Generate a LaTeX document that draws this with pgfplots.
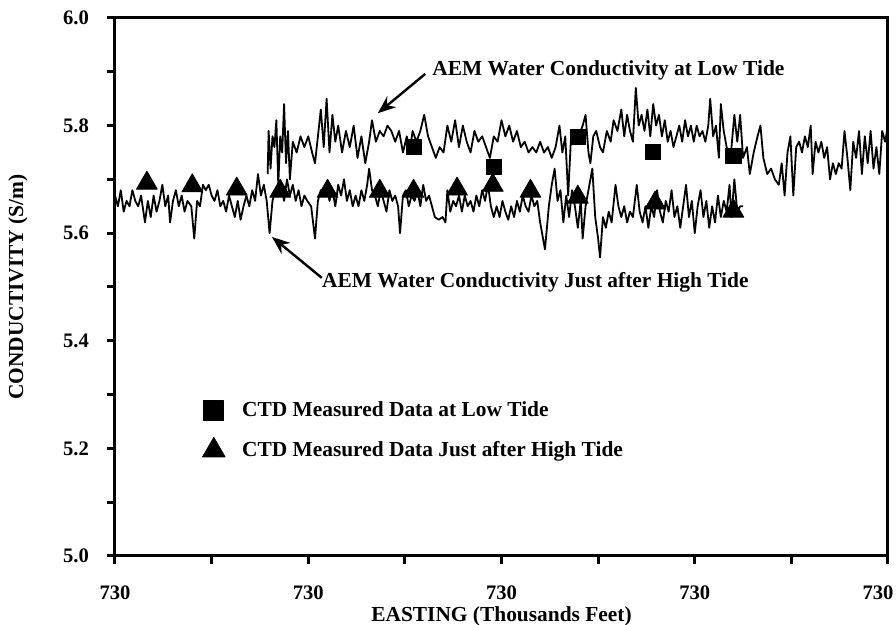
\documentclass[border=0pt]{standalone}
\usepackage{fontspec}
\setmainfont{Liberation Serif}
\usepackage{pgfplots}
\pgfplotsset{compat=1.18}
\usetikzlibrary{arrows.meta}
\newcommand{\lblfont}{\fontsize{10.7}{13}\selectfont\bfseries}

\begin{document}
\begin{tikzpicture}
\begin{axis}[
  name=ax,
  scale only axis, width=386.5pt, height=269pt,
  xmin=0, xmax=8, ymin=5.0, ymax=6.0,
  xtick={0,2,4,6,8}, minor xtick={1,3,5,7},
  xticklabels={730,730,730,730,\hbox{\kern-10pt 730}},
  ytick={5.0,5.2,5.4,5.6,5.8,6.0}, minor ytick={5.1,5.3,5.5,5.7,5.9},
  yticklabel style={/pgf/number format/fixed, /pgf/number format/fixed zerofill,
    /pgf/number format/precision=1, /pgf/number format/assume math mode=true,
    font=\fontsize{10.3}{12}\selectfont\bfseries, xshift=-5.5pt},
  xticklabel style={font=\fontsize{10.3}{12}\selectfont\bfseries, yshift=-7.5pt},
  xtick pos=left, ytick pos=left, tick align=outside,
  major tick length=4pt, minor tick length=4pt,
  every tick/.style={black, line width=1.5pt},
  axis line style={line width=1.5pt},
  xlabel={EASTING (Thousands Feet)}, ylabel={CONDUCTIVITY (S/m)},
  xlabel style={font=\lblfont, at={(axis description cs:0.5,-0.113)}, anchor=center},
  ylabel style={font=\lblfont, at={(axis description cs:-0.1255,0.5)}, anchor=center},
  legend style={at={(axis cs:0.84,5.302)}, anchor=north west, draw=none, fill=none,
    font=\lblfont, row sep=6.8pt, column sep=6.5pt},
  legend cell align=left,
  every axis plot/.append style={line join=round},
]
% AEM water conductivity just after high tide
\addplot[black, line width=0.9pt, forget plot] coordinates {
(0.00,5.67) (0.03,5.65) (0.06,5.68) (0.09,5.64) (0.12,5.66) (0.15,5.65) (0.18,5.68) (0.21,5.66)
(0.24,5.65) (0.27,5.67) (0.31,5.62) (0.34,5.66) (0.37,5.63) (0.40,5.67) (0.43,5.64) (0.46,5.66)
(0.49,5.69) (0.52,5.65) (0.55,5.67) (0.57,5.62) (0.60,5.66) (0.63,5.68) (0.66,5.65) (0.69,5.67)
(0.72,5.64) (0.75,5.66) (0.79,5.65) (0.82,5.59) (0.85,5.66) (0.88,5.65) (0.91,5.69) (0.94,5.68)
(0.97,5.69) (1.00,5.67) (1.03,5.66) (1.06,5.68) (1.09,5.65) (1.12,5.66) (1.15,5.64) (1.18,5.67)
(1.21,5.65) (1.24,5.63) (1.27,5.66) (1.30,5.625) (1.33,5.65) (1.36,5.67) (1.39,5.65) (1.42,5.68)
(1.45,5.66) (1.48,5.71) (1.51,5.67) (1.54,5.69) (1.57,5.66) (1.60,5.60) (1.63,5.66) (1.66,5.68)
(1.69,5.67) (1.72,5.69) (1.75,5.66) (1.78,5.70) (1.81,5.67) (1.84,5.69) (1.87,5.66) (1.90,5.68)
(1.93,5.65) (1.96,5.67) (1.99,5.66) (2.03,5.65) (2.07,5.59) (2.10,5.66) (2.13,5.68) (2.16,5.67)
(2.19,5.69) (2.22,5.66) (2.25,5.68) (2.28,5.65) (2.31,5.69) (2.34,5.67) (2.37,5.70) (2.40,5.66)
(2.43,5.68) (2.46,5.65) (2.49,5.67) (2.52,5.65) (2.55,5.68) (2.58,5.66) (2.61,5.69) (2.63,5.72)
(2.66,5.68) (2.69,5.67) (2.72,5.65) (2.75,5.68) (2.78,5.66) (2.81,5.64) (2.84,5.68) (2.87,5.66)
(2.90,5.67) (2.93,5.65) (2.95,5.60) (2.98,5.67) (3.01,5.68) (3.04,5.65) (3.07,5.67) (3.10,5.66)
(3.13,5.68) (3.16,5.65) (3.19,5.69) (3.22,5.66) (3.25,5.67) (3.28,5.65) (3.31,5.63) (3.35,5.625)
(3.39,5.63) (3.42,5.62) (3.44,5.68) (3.47,5.64) (3.50,5.66) (3.53,5.65) (3.56,5.67) (3.59,5.64)
(3.62,5.67) (3.65,5.65) (3.68,5.66) (3.71,5.64) (3.74,5.67) (3.77,5.65) (3.80,5.68) (3.83,5.66)
(3.86,5.69) (3.89,5.65) (3.92,5.63) (3.95,5.65) (3.98,5.63) (4.01,5.66) (4.04,5.64) (4.07,5.625)
(4.10,5.65) (4.13,5.63) (4.16,5.66) (4.19,5.64) (4.22,5.67) (4.25,5.65) (4.28,5.64) (4.31,5.67)
(4.34,5.65) (4.37,5.66) (4.40,5.62) (4.45,5.57) (4.49,5.65) (4.52,5.69) (4.55,5.72) (4.58,5.66)
(4.61,5.68) (4.64,5.62) (4.67,5.67) (4.70,5.63) (4.73,5.68) (4.76,5.65) (4.79,5.61) (4.82,5.66)
(4.84,5.59) (4.87,5.65) (4.90,5.68) (4.94,5.72) (4.97,5.63) (5.00,5.59) (5.02,5.555) (5.05,5.63)
(5.08,5.61) (5.11,5.64) (5.14,5.62) (5.18,5.69) (5.21,5.65) (5.24,5.63) (5.27,5.65) (5.30,5.62)
(5.33,5.64) (5.36,5.63) (5.40,5.69) (5.43,5.64) (5.46,5.62) (5.49,5.65) (5.52,5.61) (5.55,5.65)
(5.58,5.63) (5.61,5.68) (5.64,5.64) (5.67,5.62) (5.70,5.66) (5.73,5.64) (5.76,5.68) (5.79,5.63)
(5.82,5.65) (5.85,5.61) (5.88,5.65) (5.91,5.69) (5.94,5.63) (5.97,5.66) (6.00,5.60) (6.03,5.65)
(6.06,5.68) (6.09,5.63) (6.12,5.66) (6.15,5.61) (6.18,5.65) (6.21,5.62) (6.24,5.67) (6.27,5.63)
(6.30,5.66) (6.33,5.64) (6.36,5.69) (6.38,5.63) (6.41,5.70) (6.44,5.64) (6.47,5.65) (6.50,5.65)
};
% AEM water conductivity at low tide
\addplot[black, line width=0.9pt, forget plot] coordinates {
(1.58,5.71) (1.59,5.79) (1.61,5.72) (1.63,5.78) (1.65,5.76) (1.67,5.81) (1.69,5.69) (1.71,5.78)
(1.73,5.75) (1.75,5.84) (1.77,5.73) (1.79,5.79) (1.81,5.70) (1.84,5.77) (1.88,5.75) (1.92,5.78)
(1.96,5.76) (2.00,5.78) (2.04,5.75) (2.07,5.73) (2.10,5.78) (2.13,5.83) (2.16,5.76) (2.19,5.85)
(2.22,5.75) (2.25,5.82) (2.28,5.77) (2.31,5.80) (2.35,5.75) (2.39,5.79) (2.43,5.76) (2.47,5.80)
(2.51,5.74) (2.55,5.78) (2.59,5.73) (2.63,5.77) (2.66,5.81) (2.70,5.77) (2.74,5.79) (2.78,5.78)
(2.82,5.80) (2.86,5.79) (2.90,5.77) (2.94,5.79) (2.98,5.75) (3.02,5.78) (3.05,5.75) (3.08,5.79)
(3.12,5.77) (3.16,5.79) (3.20,5.82) (3.24,5.78) (3.28,5.76) (3.32,5.74) (3.36,5.76) (3.40,5.75)
(3.44,5.80) (3.48,5.77) (3.52,5.81) (3.56,5.76) (3.60,5.80) (3.64,5.77) (3.68,5.75) (3.72,5.79)
(3.76,5.77) (3.80,5.78) (3.84,5.76) (3.88,5.74) (3.92,5.78) (3.96,5.77) (4.00,5.81) (4.04,5.78)
(4.08,5.80) (4.12,5.77) (4.16,5.79) (4.20,5.76) (4.24,5.77) (4.28,5.75) (4.32,5.76) (4.36,5.75)
(4.40,5.77) (4.44,5.75) (4.48,5.76) (4.52,5.74) (4.56,5.76) (4.60,5.80) (4.63,5.75) (4.66,5.78)
(4.69,5.67) (4.72,5.78) (4.76,5.77) (4.80,5.78) (4.84,5.80) (4.87,5.82) (4.90,5.75) (4.92,5.73)
(4.95,5.78) (4.98,5.79) (5.02,5.76) (5.05,5.75) (5.09,5.79) (5.13,5.77) (5.16,5.81) (5.20,5.79)
(5.24,5.83) (5.27,5.78) (5.30,5.82) (5.33,5.79) (5.36,5.77) (5.39,5.87) (5.42,5.80) (5.45,5.82)
(5.48,5.79) (5.51,5.83) (5.54,5.78) (5.57,5.84) (5.60,5.80) (5.63,5.82) (5.66,5.78) (5.69,5.81)
(5.72,5.77) (5.75,5.79) (5.78,5.76) (5.81,5.78) (5.84,5.80) (5.87,5.77) (5.90,5.81) (5.93,5.78)
(5.96,5.80) (5.99,5.77) (6.02,5.80) (6.05,5.78) (6.08,5.79) (6.11,5.77) (6.14,5.80) (6.16,5.85)
(6.19,5.78) (6.22,5.80) (6.25,5.74) (6.27,5.84) (6.30,5.79) (6.33,5.76) (6.37,5.74) (6.41,5.82)
(6.44,5.77) (6.47,5.82) (6.50,5.74) (6.54,5.76) (6.57,5.71) (6.61,5.75) (6.65,5.78) (6.68,5.80)
(6.71,5.74) (6.75,5.71) (6.79,5.72) (6.83,5.70) (6.87,5.69) (6.90,5.73) (6.93,5.67) (6.96,5.75)
(6.99,5.78) (7.02,5.67) (7.05,5.76) (7.08,5.77) (7.11,5.75) (7.14,5.78) (7.17,5.76) (7.20,5.80)
(7.22,5.71) (7.25,5.77) (7.28,5.75) (7.31,5.77) (7.34,5.74) (7.37,5.76) (7.40,5.70) (7.43,5.73)
(7.46,5.71) (7.49,5.73) (7.52,5.72) (7.55,5.79) (7.58,5.74) (7.61,5.68) (7.64,5.77) (7.67,5.74)
(7.70,5.79) (7.73,5.71) (7.76,5.78) (7.79,5.73) (7.82,5.79) (7.85,5.72) (7.88,5.76) (7.91,5.71)
(7.94,5.79) (7.97,5.77) (7.99,5.79) (8.00,5.69)
};
% CTD measured data
\addplot[only marks, mark=square*, mark size=3.8pt, black,
  legend image code/.code={\draw[only marks, mark=square*, mark size=5pt] plot coordinates {(0.3cm,0cm)};}]
  coordinates {(3.09,5.760) (3.92,5.723) (4.79,5.779) (5.57,5.751) (6.40,5.743)};
\addlegendentry{CTD Measured Data at Low Tide}
\addplot[only marks, mark=triangle*, mark size=6pt, black,
  legend image code/.code={\draw[only marks, mark=triangle*, mark size=6.5pt] plot coordinates {(0.3cm,0cm)};}]
  coordinates {(0.33,5.693) (0.80,5.688) (1.26,5.682) (1.71,5.678) (2.20,5.678) (2.74,5.678)
  (3.09,5.678) (3.54,5.682) (3.91,5.689) (4.30,5.678) (4.79,5.667) (5.59,5.656) (6.40,5.641)};
\addlegendentry{CTD Measured Data Just after High Tide}

\node[anchor=west, font=\lblfont, inner sep=0pt] at (axis cs:3.28,5.903) {AEM Water Conductivity at Low Tide};
\draw[line width=1.2pt, -{Stealth[length=9pt,width=7pt]}] (axis cs:3.21,5.896) -- (axis cs:2.72,5.823);
\node[anchor=west, font=\lblfont, inner sep=0pt] at (axis cs:2.14,5.509) {AEM Water Conductivity Just after High Tide};
\draw[line width=1.2pt, -{Stealth[length=9pt,width=7pt]}] (axis cs:2.14,5.517) -- (axis cs:1.625,5.593);
\end{axis}
\pgfresetboundingbox
\path[use as bounding box] ([xshift=-57.5pt,yshift=-34.5pt]ax.south west) rectangle ([xshift=4pt,yshift=9pt]ax.north east);
\end{tikzpicture}
\end{document}
